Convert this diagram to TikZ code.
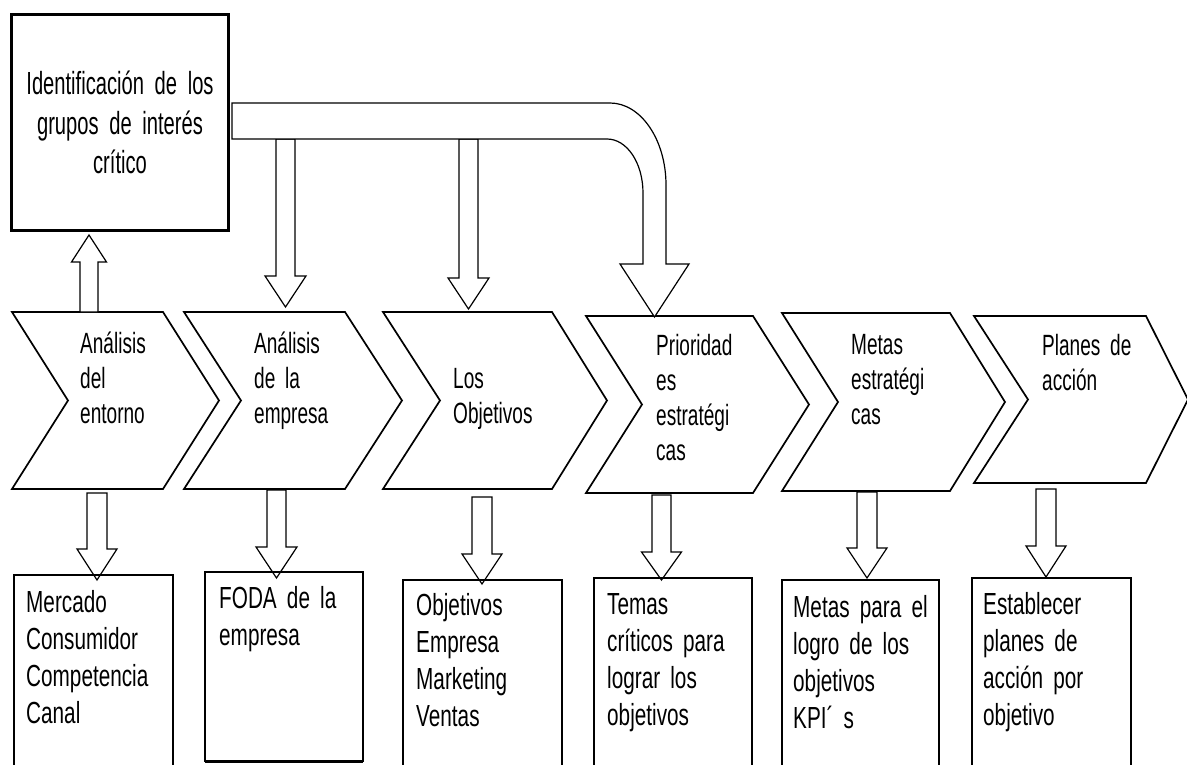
\documentclass[tikz,border=0pt]{standalone}
\usepackage{fontspec}
\setmainfont{Liberation Sans}
\newfontfamily\fA{Liberation Sans}[FakeStretch=0.63]
\newfontfamily\fB{Liberation Sans}[FakeStretch=0.65]
\newfontfamily\fC{Liberation Sans}[FakeStretch=0.68]
% block arrow: cx, start y, head-base y, tip y, shaft half width, head half width
\newcommand\blkarrow[6]{%
  \draw[blk] ({#1-#5},#2) -- ({#1+#5},#2) -- ({#1+#5},#3) -- ({#1+#6},#3) -- (#1,#4)
    -- ({#1-#6},#3) -- ({#1-#5},#3) -- cycle;}
% chevron: left x, right x, point x, notch x, top y, bottom y
\newcommand\chevshape[6]{%
  \draw[chev] (#1,#5) -- (#2,#5) -- (#3,{(#5+#6)/2}) -- (#2,#6) -- (#1,#6)
    -- (#4,{(#5+#6)/2}) -- cycle;}
\begin{document}
\begin{tikzpicture}[x=1pt,y=-1pt,
  topbox/.style={draw, line width=3pt},
  chev/.style={draw, line width=1.7pt, line join=miter, fill=white},
  blk/.style={draw, line width=1.2pt, fill=white, line join=miter},
  outbox/.style={draw, line width=1.4pt},
  toptext/.style={font=\fA\fontsize{32}{39.5}\selectfont, align=center, inner sep=0pt, anchor=base, text width=210pt},
  chevtext/.style={font=\fB\fontsize{29.3}{35}\selectfont, align=left, inner sep=0pt, anchor=base west, text width=120pt},
  outtext/.style={font=\fC\fontsize{30.5}{37}\selectfont, align=left, inner sep=0pt, anchor=base west, text width=150pt}]
\useasboundingbox (0,0) rectangle (1187,765);

% top box
\draw[topbox] (11,15) rectangle (228,230);
\node[toptext] (ident) at (120,95) {Identificación de los\\grupos de interés\\crítico};

% chevrons
\chevshape{12}{163}{219}{68}{312}{489}
\chevshape{184}{345}{402}{241}{312}{489}
\chevshape{383}{552}{607}{440}{312}{489}
\chevshape{586}{753}{809}{642}{316}{493}
\chevshape{782}{950}{1005}{838}{313}{491}
\chevshape{974}{1146}{1188}{1028}{316}{483}

\node[chevtext] (c1) at (80,353) {Análisis\\del\\entorno};
\node[chevtext] (c2) at (254,353) {Análisis\\de la\\empresa};
\node[chevtext] (c3) at (453,388) {Los\\Objetivos};
\node[chevtext] (c4) at (656,355) {Prioridad\\es\\estratégi\\cas};
\node[chevtext] (c5) at (851,354) {Metas\\estratégi\\cas};
\node[chevtext] (c6) at (1042,355) {Planes de\\acción};

% up arrow to top box
\blkarrow{89}{312}{262}{235}{9}{17.5}

% down arrows from bar
\blkarrow{285.5}{139}{276}{307}{9.5}{20.5}
\blkarrow{468.5}{139}{278}{309}{9.5}{20.5}

% bent arrow
\draw[blk] (232,103) -- (610,103) .. controls (641,103) and (666,140) .. (666,185)
  -- (666,264) -- (689,264) -- (654.5,317) -- (620,264) -- (643,264) -- (643,193)
  .. controls (643,163) and (627,139) .. (607,139) -- (232,139) -- cycle;

% down arrows to bottom boxes
\blkarrow{97}{493}{549}{580}{10}{20}
\blkarrow{276.5}{490}{547}{578}{9.5}{20.5}
\blkarrow{482}{497}{554}{584}{10}{20}
\blkarrow{661.5}{495}{552}{580}{9.5}{20}
\blkarrow{867}{492}{548}{578}{10}{20}
\blkarrow{1046}{489}{546}{577}{10}{20}

% bottom boxes
\draw[outbox] (14,575) rectangle (173,800);
\draw[outbox] (205,572) rectangle (363,761);
\draw[line width=3pt] (205,761) -- (363,761);
\draw[outbox] (403,580) rectangle (562,800);
\draw[outbox] (594,578) rectangle (752,800);
\draw[outbox] (782,580) rectangle (939,800);
\draw[outbox] (972,578) rectangle (1131,800);

\node[outtext] (b1) at (26,612) {Mercado\\Consumidor\\Competencia\\Canal};
\node[outtext] (b2) at (219,608) {FODA de la\\empresa};
\node[outtext] (b3) at (416,615) {Objetivos\\Empresa\\Marketing\\Ventas};
\node[outtext] (b4) at (607,614) {Temas\\críticos para\\lograr los\\objetivos};
\node[outtext] (b5) at (793,617) {Metas para el\\logro de los\\objetivos\\KPI´ s};
\node[outtext] (b6) at (983,614) {Establecer\\planes de\\acción por\\objetivo};
\end{tikzpicture}
\end{document}
